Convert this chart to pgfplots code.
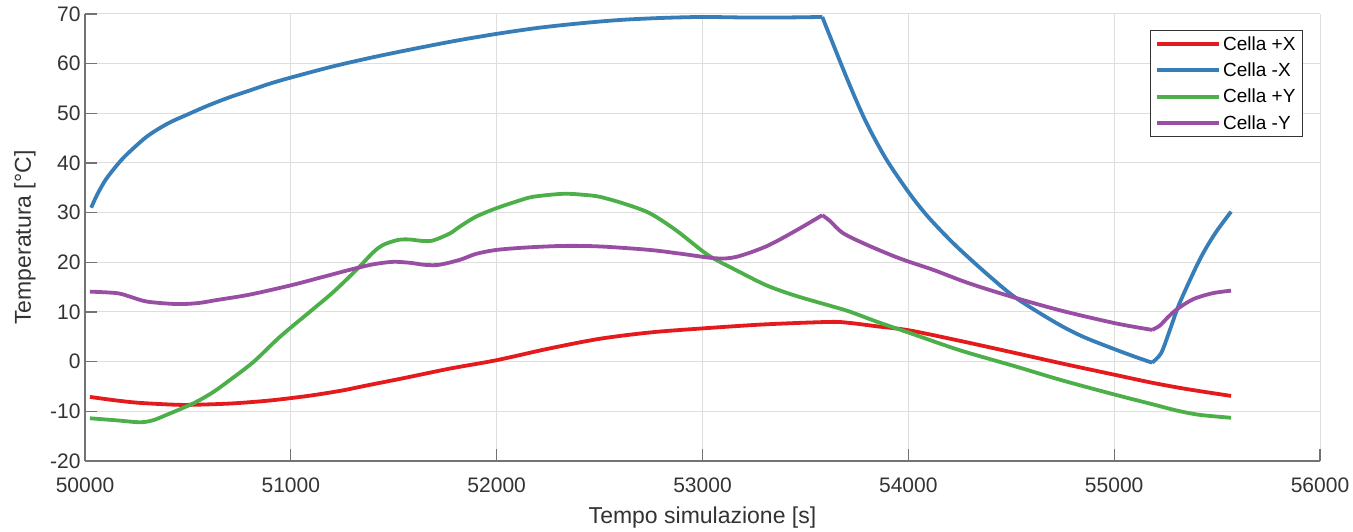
\documentclass[border=0pt]{standalone}
\usepackage{fontspec}
\setmainfont{Liberation Sans}
\usepackage{pgfplots}
\pgfplotsset{compat=1.18}
\definecolor{cred}{RGB}{228,26,28}
\definecolor{cblue}{RGB}{55,126,184}
\definecolor{cgreen}{RGB}{77,175,74}
\definecolor{cpurple}{RGB}{152,78,163}
\begin{document}
\begin{tikzpicture}
\begin{axis}[
  name=ax,
  scale only axis,
  width=1235pt, height=447pt,
  xmin=50000, xmax=56000, ymin=-20, ymax=70,
  scaled x ticks=false, scaled y ticks=false,
  axis x line*=bottom, axis y line*=left,
  axis line style={draw=black!55, line width=1.2pt, -},
  xtick={50000,51000,52000,53000,54000,55000,56000},
  xticklabels={50000,51000,52000,53000,54000,55000,56000},
  ytick={-20,-10,0,10,20,30,40,50,60,70},
  yticklabels={-20,-10,0,10,20,30,40,50,60,70},
  tick align=inside,
  major tick length=12pt,
  tick style={draw=black!55, line width=1.2pt},
  grid=major,
  major grid style={draw=black!13, line width=1pt},
  ticklabel style={font=\fontsize{21}{25}\selectfont, text=black!80},
  xticklabel style={yshift=-13pt},
  yticklabel style={xshift=-1pt},
  xlabel={Tempo simulazione [s]},
  ylabel={Temperatura [°C]},
  label style={font=\fontsize{23}{27}\selectfont, text=black!80},
  xlabel style={at={(axis description cs:0.5,-0.1275)}, anchor=center},
  ylabel style={at={(axis description cs:-0.0486,0.5)}, anchor=center},
  legend style={at={(axis description cs:0.9862,0.9642)}, anchor=north east,
    draw=black!80, line width=1pt, fill=white,
    font=\fontsize{19}{22}\selectfont, inner xsep=5pt, inner ysep=4pt,
    row sep=7pt, cells={anchor=west}},
  legend image code/.code={\draw[#1] (0pt,0pt) -- (62pt,0pt);},
  every axis plot/.append style={line width=3.8pt, line join=round},
]
\addplot[cred, smooth] coordinates {
(50024,-7.1) (50150,-7.8) (50267,-8.3) (50461,-8.7) (50600,-8.6) (50719,-8.4)
(50850,-8.0) (50947,-7.6) (51100,-6.8) (51250,-5.8) (51368,-4.8) (51550,-3.3) (51772,-1.4)
(52000,0.3) (52250,2.6) (52500,4.6) (52750,5.9) (53002,6.7) (53300,7.5)
(53617,8.0) (53714,7.8) (53850,7.1) (54005,6.3) (54250,4.2) (54524,1.7)
(54750,-0.4) (55009,-2.7) (55179,-4.2) (55350,-5.5) (55568,-6.9)
};
\addlegendentry{Cella +X}
\addplot[cblue, smooth] coordinates {
(50030,31) (50060,33.7) (50100,36.6) (50150,39.3) (50200,41.6) (50300,45.3)
(50400,47.9) (50500,49.8) (50600,51.6) (50700,53.2) (50800,54.6) (50900,56.0)
(51000,57.2) (51200,59.4) (51400,61.3) (51600,63.0) (51800,64.6) (52000,66.0)
(52200,67.2) (52400,68.1) (52600,68.8) (52800,69.2) (53000,69.4) (53200,69.3)
(53400,69.3) (53582,69.4)
};
\addlegendentry{Cella -X}
\addplot[cgreen, smooth] coordinates {
(50024,-11.4) (50150,-11.8) (50267,-12.2) (50330,-11.8) (50397,-10.7) (50526,-8.4)
(50620,-6.2) (50704,-3.7) (50820,0.0) (50947,5.0) (51100,10.3) (51206,14.0) (51319,18.5)
(51400,22.0) (51448,23.5) (51520,24.5) (51578,24.6) (51640,24.3) (51691,24.4)
(51772,25.8) (51821,27.2) (51900,29.2) (51999,30.9) (52100,32.3) (52177,33.2)
(52323,33.8) (52420,33.6) (52500,33.2) (52620,31.8) (52743,29.9) (52870,26.5)
(53002,22.2) (53066,20.5) (53164,18.4) (53309,15.4) (53450,13.3) (53633,11.1)
(53714,10.1) (53850,8.0) (54005,5.8) (54250,2.3) (54524,-1.0) (54750,-3.8)
(55009,-6.7) (55179,-8.5) (55300,-9.8) (55413,-10.7) (55568,-11.3)
};
\addlegendentry{Cella +Y}
\addplot[cpurple, smooth] coordinates {
(50024,14.1) (50154,13.8) (50218,13.1) (50300,12.1) (50445,11.6) (50550,11.8)
(50639,12.4) (50800,13.5) (51003,15.4) (51150,17.0) (51287,18.5) (51400,19.6)
(51497,20.1) (51580,19.9) (51650,19.5) (51720,19.5) (51821,20.5) (51900,21.7)
(51999,22.5) (52150,23.0) (52323,23.3) (52500,23.2) (52743,22.5) (52900,21.7)
(53066,20.8) (53164,21.1) (53309,23.2) (53450,26.3) (53582,29.5)
};
\addlegendentry{Cella -Y}
% remaining segments of -X and -Y (sharp corners between segments)
\addplot[cblue, smooth, forget plot] coordinates {
(53582,69.4) (53633,64.1) (53714,55.8) (53795,48.2) (53892,40.8) (54005,33.9)
(54095,29.2) (54200,24.6) (54281,21.4) (54400,17.0) (54524,12.8) (54718,7.8)
(54850,5) (55009,2.4) (55100,1) (55184,-0.2)
};
\addplot[cblue, smooth, forget plot] coordinates {
(55184,-0.2) (55228,1.7) (55270,6.3) (55318,11.8) (55415,20.5) (55490,25.8) (55568,30.2)
};
\addplot[cpurple, smooth, forget plot] coordinates {
(53582,29.5) (53620,28.3) (53682,25.9) (53800,23.5) (53957,20.8) (54120,18.5)
(54300,15.7) (54524,12.8) (54750,10.2) (55009,7.7) (55184,6.4)
};
\addplot[cpurple, smooth, forget plot] coordinates {
(55184,6.4) (55220,7.2) (55260,8.9) (55300,10.4) (55350,11.8) (55397,12.8) (55480,13.8) (55568,14.3)
};
\end{axis}
\pgfresetboundingbox
\path[use as bounding box] ([xshift=-85pt,yshift=-71pt]ax.south west) rectangle ([xshift=33pt,yshift=14pt]ax.north east);
\end{tikzpicture}
\end{document}
